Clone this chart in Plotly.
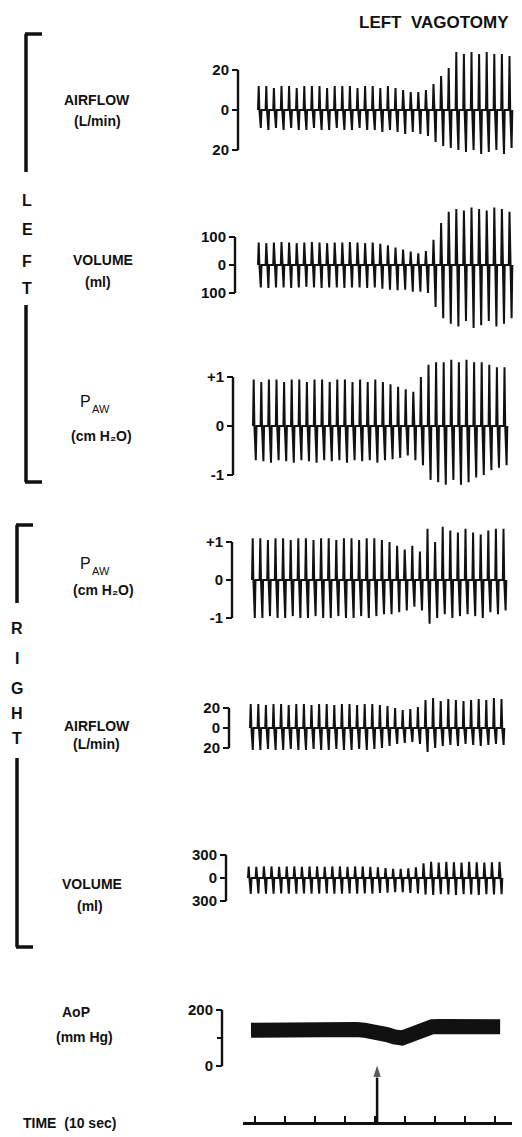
import plotly.graph_objects as go

# ---------------- data ----------------
left_airflow_top = [12, 12, 11, 12, 12, 11, 12, 12, 12, 11, 12, 12, 12, 11, 12, 12, 11, 12, 11, 10,
                    9, 9, 10, 13, 17, 21, 29, 28, 29, 28, 29, 28, 28, 27]
left_airflow_bot = [-9, -10, -9, -10, -9, -10, -10, -9, -10, -10, -9, -10, -10, -9, -10, -10, -11, -10,
                    -11, -12, -11, -12, -13, -16, -18, -19, -20, -21, -20, -22, -21, -20, -22, -19]

left_volume_top = [80, 78, 80, 82, 80, 78, 80, 82, 80, 78, 80, 80, 82, 80, 78, 80, 76, 70, 62, 55,
                   48, 42, 50, 90, 150, 190, 200, 195, 205, 200, 195, 205, 200, 190]
left_volume_bot = [-80, -82, -80, -80, -82, -80, -78, -80, -82, -80, -80, -82, -80, -80, -82, -80,
                   -85, -88, -90, -88, -95, -95, -100, -150, -190, -210, -220, -200, -225, -215,
                   -200, -220, -210, -190]

left_paw_top = [0.95, 0.9, 0.95, 0.95, 0.9, 0.95, 0.95, 0.9, 0.95, 0.95, 0.9, 0.95, 0.95, 0.9,
                0.95, 0.9, 0.95, 0.9, 0.85, 0.8, 0.75, 0.7, 1.0, 1.25, 1.3, 1.3, 1.35, 1.3, 1.35,
                1.3, 1.3, 1.25, 1.2, 1.2]
left_paw_bot = [-0.7, -0.72, -0.75, -0.7, -0.72, -0.75, -0.7, -0.72, -0.75, -0.7, -0.72, -0.7,
                -0.75, -0.7, -0.72, -0.7, -0.75, -0.7, -0.68, -0.65, -0.6, -0.7, -0.8, -1.1, -1.15,
                -1.2, -1.1, -1.2, -1.15, -1.05, -1.0, -0.9, -0.85, -0.8]

right_paw_top = [1.1, 1.1, 1.05, 1.1, 1.1, 1.05, 1.1, 1.1, 1.05, 1.1, 1.1, 1.05, 1.1, 1.1, 1.05,
                 1.1, 1.1, 1.05, 1.0, 0.9, 0.8, 0.9, 0.75, 1.35, 1.0, 1.4, 1.3, 1.25, 1.35, 1.25,
                 1.2, 1.3, 1.35, 1.35]
right_paw_bot = [-1.0, -1.0, -0.95, -1.0, -1.0, -0.95, -1.0, -1.0, -0.95, -1.0, -1.0, -0.95, -1.0,
                 -1.0, -0.95, -1.0, -0.95, -0.9, -0.9, -0.85, -0.8, -0.7, -0.8, -1.15, -1.0, -0.9,
                 -1.0, -0.95, -0.9, -0.95, -1.0, -0.85, -0.9, -0.8]

right_airflow_top = [24, 24, 23, 24, 24, 23, 24, 24, 23, 24, 24, 23, 24, 24, 23, 24, 24, 23, 22, 20,
                     18, 19, 21, 28, 30, 27, 29, 28, 27, 28, 29, 28, 30, 29]
right_airflow_bot = [-22, -22, -21, -22, -22, -21, -22, -22, -21, -22, -22, -21, -22, -22, -21, -22,
                     -21, -20, -18, -16, -15, -14, -16, -24, -20, -18, -17, -18, -16, -17, -18, -17,
                     -16, -17]

right_volume_top = [150, 145, 150, 150, 145, 150, 150, 145, 150, 150, 145, 150, 150, 145, 150, 150,
                    145, 140, 130, 120, 120, 125, 140, 190, 210, 200, 210, 205, 200, 210, 205, 200,
                    205, 210]
right_volume_bot = [-205, -200, -205, -205, -200, -205, -205, -200, -205, -205, -200, -205, -205,
                    -200, -205, -200, -205, -195, -190, -185, -185, -195, -200, -215, -220, -210,
                    -215, -220, -210, -215, -220, -210, -215, -210]

aop_mean = [128, 129, 128, 130, 129, 128, 129, 130, 128, 129, 130, 129, 130, 131, 130, 128, 126,
            120, 112, 104, 100, 110, 125, 138, 140, 141, 142, 141, 142, 143, 142, 141, 142, 140]

time_ticks = [0, 1, 2, 3, 4, 5, 6, 7, 8]
vagotomy_time = 4.07

# ---------------- layout helpers ----------------
W, H = 522, 1137
PX_ORIGIN, PX_PER_T = 255.0, 30.0          # time unit = one tick interval


def t_of(px):
    return (px - PX_ORIGIN) / PX_PER_T


def fx(px):
    return px / W


def fy(py):
    return 1 - py / H


FONT = "Liberation Sans, Arial, sans-serif"
BLACK = "#111111"

# panel geometry: band top/bottom px, zero px, px per unit, bracket px, trace start px
panels = [
    dict(name="y", top=35, bot=170, zero=110, k=2.0, brk=238, start=258,
         ticks=[-20, 0, 20], labels=["20", "0", "20"],
         tops=left_airflow_top, bots=left_airflow_bot),
    dict(name="y2", top=195, bot=340, zero=265, k=0.28, brk=235, start=258,
         ticks=[-100, 0, 100], labels=["100", "0", "100"],
         tops=left_volume_top, bots=left_volume_bot),
    dict(name="y3", top=345, bot=495, zero=426, k=49, brk=233, start=253,
         ticks=[-1, 0, 1], labels=["-1", "0", "+1"],
         tops=left_paw_top, bots=left_paw_bot),
    dict(name="y4", top=505, bot=640, zero=580, k=38, brk=232, start=252,
         ticks=[-1, 0, 1], labels=["-1", "0", "+1"],
         tops=right_paw_top, bots=right_paw_bot),
    dict(name="y5", top=680, bot=770, zero=728, k=1.0, brk=229, start=250,
         ticks=[-20, 0, 20], labels=["20", "0", "20"],
         tops=right_airflow_top, bots=right_airflow_bot),
    dict(name="y6", top=840, bot=915, zero=878, k=0.077, brk=226, start=248,
         ticks=[-300, 0, 300], labels=["300", "0", "300"],
         tops=right_volume_top, bots=right_volume_bot),
]
aop_panel = dict(name="y7", top=990, bot=1075, zero=1066, k=0.28, brk=222, start=245,
                 ticks=[0, 200], labels=["0", "200"])

CYCLE_PX = 7.6
SPIKE_PX = [0.0, 0.7, 1.4, 2.8, 3.5]     # px offsets within a cycle: 0, top, 0, bottom, 0

fig = go.Figure()
layout_axes = {}
shapes = []


def axis_key(name):
    return "yaxis" if name == "y" else "yaxis" + name[1:]


def make_yaxis(p, minor=None):
    d0, d1 = fy(p["bot"]), fy(p["top"])
    r0 = -(p["bot"] - p["zero"]) / p["k"]
    r1 = (p["zero"] - p["top"]) / p["k"]
    ax = dict(domain=[d0, d1], range=[r0, r1], anchor="free", position=fx(p["brk"]),
              side="left", showline=False, showgrid=False, zeroline=False,
              ticks="outside", ticklen=6, tickwidth=2.2, tickcolor=BLACK,
              tickvals=p["ticks"], ticktext=p["labels"],
              tickfont=dict(family=FONT, size=15, color=BLACK, weight="bold"),
              fixedrange=True)
    if minor:
        ax["minor"] = minor
    return ax


for p in panels:
    xs, ys = [], []
    for i, (tp, bt) in enumerate(zip(p["tops"], p["bots"])):
        base = p["start"] + i * CYCLE_PX
        for off, v in zip(SPIKE_PX, [0, tp, 0, bt, 0]):
            xs.append(t_of(base + off))
            ys.append(v)
    fig.add_trace(go.Scatter(x=xs, y=ys, mode="lines", xaxis="x", yaxis=p["name"],
                             line=dict(color=BLACK, width=2.0), hoverinfo="skip",
                             showlegend=False))
    layout_axes[axis_key(p["name"])] = make_yaxis(p)
    shapes.append(dict(type="line", xref="paper", yref=p["name"],
                       x0=fx(p["brk"]), x1=fx(p["brk"]),
                       y0=min(p["ticks"]), y1=max(p["ticks"]),
                       line=dict(color=BLACK, width=2.4)))

# AoP trace (thick band)
aop_x = [t_of(aop_panel["start"] + 6 + i * 7.55) for i in range(len(aop_mean))]
fig.add_trace(go.Scatter(x=aop_x, y=aop_mean, mode="lines", xaxis="x", yaxis="y7",
                         line=dict(color=BLACK, width=15), hoverinfo="skip",
                         showlegend=False))
layout_axes["yaxis7"] = make_yaxis(aop_panel, minor=dict(dtick=100, tick0=0, ticks="outside",
                                                         ticklen=5, tickwidth=2.2,
                                                         tickcolor=BLACK, showgrid=False))
shapes.append(dict(type="line", xref="paper", yref="y7",
                   x0=fx(aop_panel["brk"]), x1=fx(aop_panel["brk"]),
                   y0=0, y1=200, line=dict(color=BLACK, width=2.4)))

# time axis with vagotomy arrow
TIME_LINE = 1122
ARROW_TOP = 1064
fig.add_trace(go.Scatter(x=[vagotomy_time, vagotomy_time], y=[0, (TIME_LINE - ARROW_TOP) / 67.0],
                         mode="lines+markers", xaxis="x2", yaxis="y8",
                         line=dict(color=BLACK, width=2.5),
                         marker=dict(symbol="arrow", angleref="previous", size=[0, 14],
                                     color=BLACK),
                         hoverinfo="skip", showlegend=False))

layout_axes["xaxis"] = dict(domain=[0, 1], range=[t_of(0), t_of(W)], visible=False,
                            fixedrange=True, anchor="y")
layout_axes["xaxis2"] = dict(domain=[fx(243), fx(512)], range=[t_of(243), t_of(512)],
                             anchor="y8", showline=True, linewidth=2.5, linecolor=BLACK,
                             ticks="inside", ticklen=6, tickwidth=2, tickcolor=BLACK,
                             tickvals=time_ticks, showticklabels=False, showgrid=False,
                             zeroline=False, fixedrange=True)
layout_axes["yaxis8"] = dict(domain=[fy(TIME_LINE), fy(TIME_LINE - 67)], range=[0, 1],
                             visible=False, fixedrange=True, anchor="x2")


# side brackets (LEFT / RIGHT)
def bracket(x, y_top, y_bot, serif_top):
    ys = y_top if serif_top else y_bot
    return [
        dict(type="line", xref="paper", yref="paper", x0=fx(x), x1=fx(x),
             y0=fy(y_top), y1=fy(y_bot), line=dict(color=BLACK, width=3.5)),
        dict(type="line", xref="paper", yref="paper", x0=fx(x - 1), x1=fx(x + 16),
             y0=fy(ys), y1=fy(ys), line=dict(color=BLACK, width=3.5)),
    ]


shapes += bracket(26, 34, 172, True)
shapes += bracket(26, 305, 482, False)
shapes += bracket(17, 525, 603, True)
shapes += bracket(17, 758, 947, False)

annotations = []


def txt(text, x, y, size=14, weight="bold", xanchor="center"):
    annotations.append(dict(text=text, x=fx(x), y=fy(y), xref="paper", yref="paper",
                            showarrow=False, xanchor=xanchor, yanchor="middle", borderpad=0,
                            font=dict(family=FONT, size=size, color=BLACK, weight=weight)))


txt("LEFT  VAGOTOMY", 434, 22, size=17)
for ch, yy in zip("LEFT", [200, 230, 261, 289]):
    txt(ch, 27, yy, size=16)
for ch, yy in zip("RIGHT", [628, 658, 688, 713, 738]):
    txt(ch, 17, yy, size=16)

txt("AIRFLOW", 97, 100, size=14)
txt("(L/min)", 97, 121, size=14)
txt("VOLUME", 103, 260, size=14)
txt("(ml)", 98, 282, size=14)
# P with subscript AW, as two plain texts
txt("P", 92, 401, size=16, weight="normal", xanchor="right")
txt("AW", 91, 409, size=11, weight="normal", xanchor="left")
txt("(cm H\u2082O)", 101, 436, size=14)
txt("P", 92, 563, size=16, weight="normal", xanchor="right")
txt("AW", 91, 571, size=11, weight="normal", xanchor="left")
txt("(cm H\u2082O)", 103, 590, size=14)
txt("AIRFLOW", 97, 726, size=14)
txt("(L/min)", 96, 744, size=14)
txt("VOLUME", 92, 884, size=14)
txt("(ml)", 90, 906, size=14)
txt("AoP", 76, 1012, size=14)
txt("(mm Hg)", 85, 1037, size=14)
txt("TIME  (10 sec)", 22, 1123, size=14, xanchor="left")

fig.update_layout(width=W, height=H, margin=dict(l=0, r=0, t=0, b=0),
                  paper_bgcolor="white", plot_bgcolor="white", showlegend=False,
                  shapes=shapes, annotations=annotations, **layout_axes)

fig.write_html("out.html")
